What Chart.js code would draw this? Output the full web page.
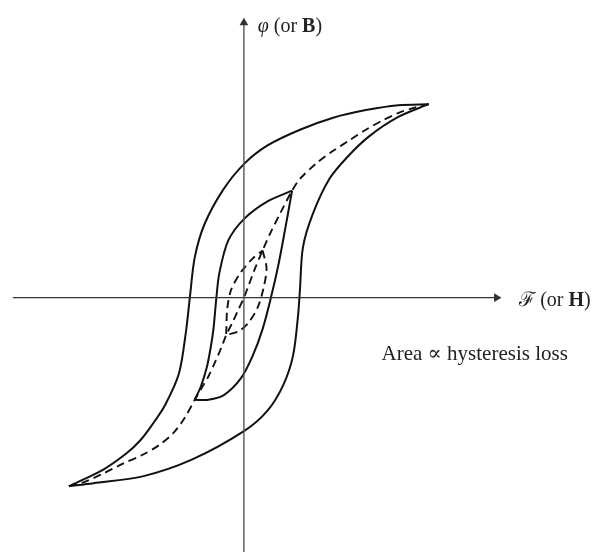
<!DOCTYPE html>
<html>
<head>
<meta charset="utf-8">
<script src="https://cdn.jsdelivr.net/npm/chart.js@4"></script>
<style>
html,body{margin:0;padding:0;background:#fff;}
#wrap{width:594px;height:557px;}
</style>
</head>
<body>
<div id="wrap"><canvas id="c" width="594" height="557"></canvas></div>
<script>
// ---- data (arbitrary units) ----
const outerDescending = [[1.88,1.97],[1.57,1.96],[1.24,1.91],[0.90,1.83],[0.57,1.71],[0.24,1.55],[0,1.36],[-0.21,1.10],[-0.40,0.75],[-0.50,0.41],[-0.55,0],[-0.59,-0.35],[-0.66,-0.77],[-0.80,-1.09],[-0.93,-1.29],[-1.06,-1.46],[-1.20,-1.59],[-1.43,-1.75],[-1.78,-1.92]];
const outerAscending = [[-1.78,-1.92],[-1.53,-1.89],[-1.03,-1.82],[-0.53,-1.65],[0,-1.36],[0.24,-1.15],[0.40,-0.89],[0.50,-0.59],[0.55,-0.19],[0.57,0.08],[0.60,0.51],[0.70,0.85],[0.87,1.21],[1.05,1.43],[1.27,1.64],[1.57,1.84],[1.88,1.97]];
const innerDescending = [[0.49,1.09],[0.24,0.98],[0,0.80],[-0.16,0.58],[-0.25,0.25],[-0.28,0],[-0.31,-0.32],[-0.34,-0.52],[-0.38,-0.72],[-0.44,-0.91],[-0.50,-1.04]];
const innerAscending = [[-0.50,-1.04],[-0.36,-1.04],[-0.20,-0.99],[-0.03,-0.82],[0.09,-0.59],[0.19,-0.32],[0.27,-0.02],[0.35,0.33],[0.42,0.70],[0.49,1.09]];
const smallLoopLeft = [[-0.18,-0.37],[-0.17,-0.12],[-0.13,0.08],[-0.03,0.26],[0.09,0.40],[0.19,0.48]];
const smallLoopRight = [[0.19,0.48],[0.23,0.30],[0.20,0.10],[0.14,-0.10],[0.05,-0.25],[-0.05,-0.34],[-0.18,-0.38]];
const normalCurve = [[-1.78,-1.92],[-1.63,-1.88],[-1.43,-1.79],[-1.23,-1.69],[-1.03,-1.60],[-0.86,-1.50],[-0.71,-1.37],[-0.60,-1.22],[-0.50,-1.04],[-0.43,-0.92],[-0.36,-0.80],[-0.29,-0.65],[-0.23,-0.51],[-0.18,-0.38],[-0.12,-0.26],[-0.06,-0.13],[0,0],[0.05,0.13],[0.11,0.29],[0.19,0.48],[0.27,0.66],[0.37,0.86],[0.49,1.09],[0.57,1.21],[0.74,1.37],[0.90,1.49],[1.07,1.60],[1.24,1.71],[1.42,1.81],[1.57,1.88],[1.72,1.93],[1.88,1.97]];
const xAxisLine = [[-2.35,0],[2.57,0]];
const yAxisLine = [[0,-2.60],[0,2.80]];
const xRange = [-2.43, 3.51];
const yRange = [-2.59, 2.98];
const axisLabelY = ["φ", " (or ", "B", ")"];
const axisLabelX = ["ℱ", " (or ", "H", ")"];
const noteText = "Area ∝ hysteresis loss";

const toPts = a => a.map(p => ({x:p[0], y:p[1]}));
const INK = '#111';
function solid(d){return {data:toPts(d),showLine:true,borderColor:INK,borderWidth:2,pointRadius:0,tension:0.3,fill:false};}
function dashed(d){return {data:toPts(d),showLine:true,borderColor:INK,borderWidth:1.9,borderDash:[8,5],pointRadius:0,tension:0.3,fill:false};}

const labelsPlugin = {
  id:'labels',
  afterDatasetsDraw(chart){
    const ctx = chart.ctx, xs = chart.scales.x, ys = chart.scales.y;
    ctx.save();
    ctx.fillStyle = '#222';
    ctx.textBaseline = 'alphabetic';
    const fam = '"Liberation Serif", "DejaVu Serif", serif';
    function rich(parts, styles, x, y){
      let cx = x;
      parts.forEach((t,i)=>{ctx.font = styles[i]; ctx.fillText(t,cx,y); cx += ctx.measureText(t).width;});
    }
    const sz = 20;
    rich(axisLabelY, ['italic '+sz+'px '+fam, sz+'px '+fam, 'bold '+sz+'px '+fam, sz+'px '+fam],
         xs.getPixelForValue(0.14), ys.getPixelForValue(2.70));
    rich(axisLabelX, [sz+'px "DejaVu Serif", serif', sz+'px '+fam, 'bold '+sz+'px '+fam, sz+'px '+fam],
         xs.getPixelForValue(2.80), ys.getPixelForValue(-0.08));
    ctx.font = '21px '+fam;
    ctx.fillText(noteText, xs.getPixelForValue(1.40), ys.getPixelForValue(-0.63));
    ctx.restore();
  }
};

new Chart(document.getElementById('c'), {
  type:'scatter',
  data:{datasets:[
    {data:toPts(xAxisLine),showLine:true,borderColor:'#333',borderWidth:1.4,pointRadius:[0,5],pointStyle:'triangle',pointRotation:[0,90],pointBackgroundColor:'#333',pointBorderColor:'#333',pointBorderWidth:0},
    {data:toPts(yAxisLine),showLine:true,borderColor:'#555',borderWidth:1.4,pointRadius:[0,5],pointStyle:'triangle',pointRotation:[0,0],pointBackgroundColor:'#333',pointBorderColor:'#333',pointBorderWidth:0},
    solid(outerDescending), solid(outerAscending),
    solid(innerDescending), solid(innerAscending),
    dashed(smallLoopLeft), dashed(smallLoopRight),
    dashed(normalCurve)
  ]},
  options:{
    responsive:false, animation:false,
    layout:{padding:0},
    plugins:{legend:{display:false},tooltip:{enabled:false}},
    scales:{
      x:{type:'linear',min:xRange[0],max:xRange[1],display:false},
      y:{type:'linear',min:yRange[0],max:yRange[1],display:false}
    }
  },
  plugins:[labelsPlugin]
});
</script>
</body>
</html>
